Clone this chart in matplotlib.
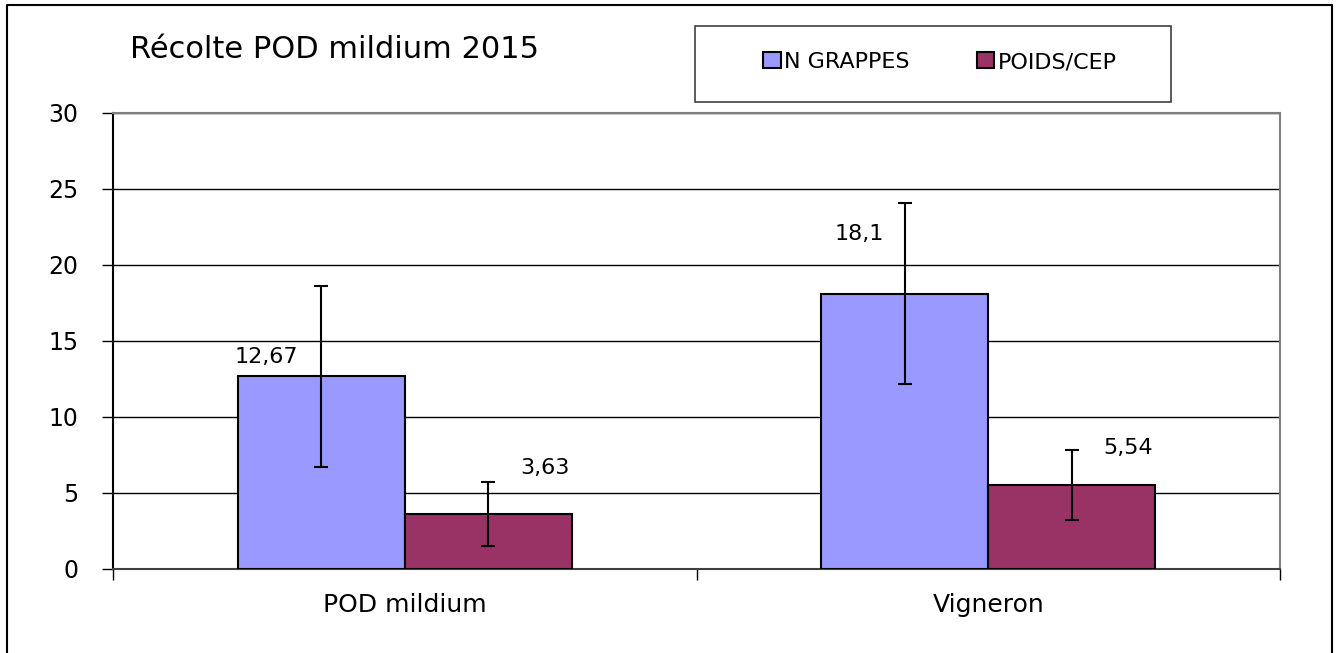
import matplotlib.pyplot as plt
import matplotlib.patches as mpatches
from matplotlib.lines import Line2D
import numpy as np

categories = ['POD mildium', 'Vigneron']
series = ['N GRAPPES', 'POIDS/CEP']
grappes = [12.67, 18.1]
grappes_err = [5.93, 5.96]
poids = [3.63, 5.54]
poids_err = [2.1, 2.3]
value_labels = [['12,67', '18,1'], ['3,63', '5,54']]

# label offsets from the bar top, in pixels (hand placed in the original)
label_offsets = [[(-55, 19), (-46, 60)], [(57, 46), (56, 37)]]

colors = ['#9999FF', '#993366']
W, H = 1341, 653

plt.rcParams['font.family'] = ['DejaVu Sans']

fig = plt.figure(figsize=(W / 100, H / 100), dpi=100)
ax = fig.add_axes([113 / W, (H - 569) / H, (1280 - 113) / W, (569 - 113) / H])

x = np.arange(len(categories))
bw = 0.286
b1 = ax.bar(x - bw / 2, grappes, bw, color=colors[0], edgecolor='black', linewidth=1.5,
            yerr=grappes_err, capsize=5, error_kw=dict(elinewidth=1.5, capthick=1.5, ecolor='black'),
            label=series[0], zorder=3)
b2 = ax.bar(x + bw / 2, poids, bw, color=colors[1], edgecolor='black', linewidth=1.5,
            yerr=poids_err, capsize=5, error_kw=dict(elinewidth=1.5, capthick=1.5, ecolor='black'),
            label=series[1], zorder=3)

for si, bars in enumerate([b1, b2]):
    for ci, rect in enumerate(bars):
        dx, dy = label_offsets[si][ci]
        ax.annotate(value_labels[si][ci], (rect.get_x() + rect.get_width() / 2, rect.get_height()),
                    xytext=(dx, dy), textcoords='offset pixels', ha='center', va='center',
                    fontsize=16, zorder=5)

ax.set_xlim(-0.5, 1.5)
ax.set_ylim(0, 30)
ax.set_yticks(range(0, 31, 5))
ax.yaxis.grid(True, color='black', linewidth=1)
ax.set_axisbelow(True)
ax.tick_params(axis='y', length=8, width=1, labelsize=17, pad=17)

ax.set_xticks(x)
ax.set_xticklabels(categories)
ax.tick_params(axis='x', length=0, labelsize=18, pad=17)
ax.set_xticks([-0.5, 0.5, 1.5], minor=True)
ax.tick_params(axis='x', which='minor', length=8, width=1, direction='out')

for s in ['top', 'right']:
    ax.spines[s].set_color('#808080')
    ax.spines[s].set_linewidth(1.5)
ax.spines['left'].set_color('black')
ax.spines['bottom'].set_color('#404040')
ax.spines['left'].set_linewidth(1.5)
ax.spines['bottom'].set_linewidth(1.5)

# title
fig.text(130 / W, 1 - 50 / H, 'Récolte POD mildium 2015', fontsize=22, ha='left', va='center')

# legend box
fig.add_artist(mpatches.Rectangle((695 / W, 1 - 102 / H), (1171 - 695) / W, (102 - 26) / H,
                                  transform=fig.transFigure, fill=False, edgecolor='#404040', linewidth=1.2))
handles = [mpatches.Patch(facecolor=c, edgecolor='black', linewidth=1.5) for c in colors]
fig.legend(handles, series, loc='center', bbox_to_anchor=(940 / W, 1 - 62 / H), ncol=2,
           frameon=False, fontsize=16, handlelength=0.8, handleheight=0.7, handletextpad=0.15,
           columnspacing=3.0)

# outer frame (bottom edge cut off)
fig.add_artist(Line2D([7 / W, 7 / W, 1332 / W, 1332 / W], [0, 1 - 5 / H, 1 - 5 / H, 0],
                      transform=fig.transFigure, color='black', linewidth=1.5))

fig.savefig('out.png', dpi=100)
